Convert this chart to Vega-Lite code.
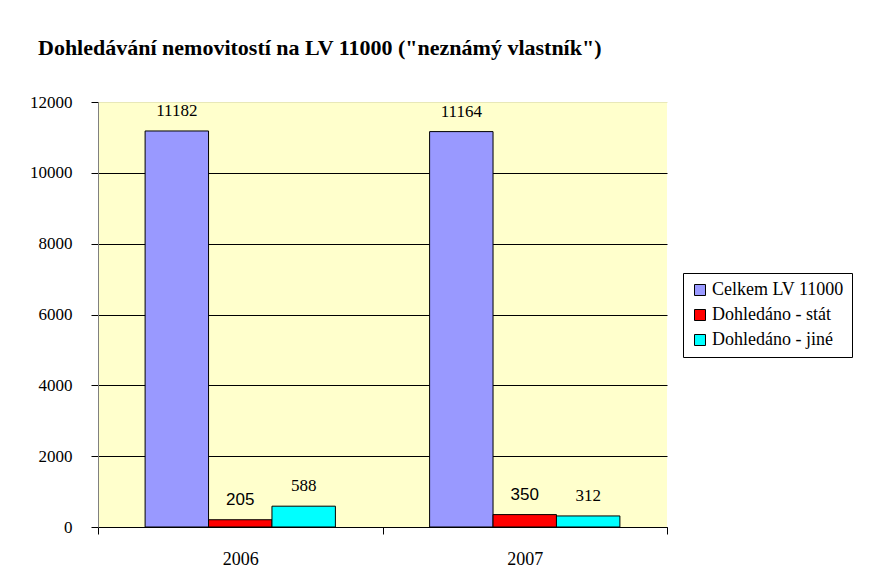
{
  "$schema": "https://vega.github.io/schema/vega-lite/v6.json",
  "autosize": "none",
  "width": 569,
  "height": 425,
  "padding": {"left": 98, "top": 102, "right": 203, "bottom": 53},
  "background": "white",
  "title": {
    "text": "Dohledávání nemovitostí na LV 11000 (\"neznámý vlastník\")",
    "anchor": "start",
    "frame": "group",
    "dx": -60,
    "dy": 6,
    "offset": 39,
    "font": "Liberation Serif",
    "fontSize": 22,
    "fontWeight": "bold",
    "color": "black"
  },
  "data": {
    "values": [
      {"year": "2006", "series": "Celkem LV 11000", "value": 11182},
      {"year": "2006", "series": "Dohledáno - stát", "value": 205},
      {"year": "2006", "series": "Dohledáno - jiné", "value": 588},
      {"year": "2007", "series": "Celkem LV 11000", "value": 11164},
      {"year": "2007", "series": "Dohledáno - stát", "value": 350},
      {"year": "2007", "series": "Dohledáno - jiné", "value": 312}
    ]
  },
  "encoding": {
    "x": {
      "field": "year",
      "type": "nominal",
      "scale": {"paddingInner": 0, "paddingOuter": 0},
      "axis": {
        "title": null,
        "labelAngle": 0,
        "labelFont": "Liberation Serif",
        "labelFontSize": 18,
        "labelColor": "black",
        "labelPadding": 16,
        "tickBand": "extent",
        "tickSize": 7,
        "tickColor": "black",
        "domainColor": "black",
        "grid": false
      }
    },
    "xOffset": {
      "field": "series",
      "type": "nominal",
      "sort": ["Celkem LV 11000", "Dohledáno - stát", "Dohledáno - jiné"],
      "scale": {"paddingInner": 0, "paddingOuter": 0.7426}
    },
    "y": {
      "field": "value",
      "type": "quantitative",
      "scale": {"domain": [0, 12000], "nice": false},
      "axis": {
        "title": null,
        "format": "d",
        "values": [0, 2000, 4000, 6000, 8000, 10000, 12000],
        "labelFont": "Liberation Serif",
        "labelFontSize": 17,
        "labelColor": "black",
        "labelPadding": 19,
        "tickSize": 7,
        "tickColor": "black",
        "domainColor": "#808080",
        "grid": true,
        "gridColor": {"condition": {"test": "datum.value == 12000", "value": "#e8e8b8"}, "value": "black"},
        "gridOpacity": 1
      }
    }
  },
  "layer": [
    {
      "mark": {"type": "bar", "stroke": "black", "strokeWidth": 1},
      "encoding": {
        "color": {
          "field": "series",
          "type": "nominal",
          "sort": ["Celkem LV 11000", "Dohledáno - stát", "Dohledáno - jiné"],
          "scale": {
            "domain": ["Celkem LV 11000", "Dohledáno - stát", "Dohledáno - jiné"],
            "range": ["#9999FF", "#FF0000", "#00FFFF"]
          },
          "legend": {
            "title": null,
            "orient": "none",
            "legendX": 585,
            "legendY": 171,
            "padding": 8,
            "strokeColor": "black",
            "fillColor": "white",
            "symbolType": "square",
            "symbolSize": 121,
            "symbolStrokeColor": "black",
            "symbolStrokeWidth": 1,
            "symbolOpacity": 1,
            "labelFont": "Liberation Serif",
            "labelFontSize": 18,
            "labelColor": "black",
            "labelOffset": 3,
            "rowPadding": 7,
            "labelLimit": 300
          }
        }
      }
    },
    {
      "transform": [{"filter": "datum.series != 'Dohledáno - stát'"}],
      "mark": {"type": "text", "dy": -20, "baseline": "middle", "color": "black", "font": "Liberation Serif", "fontSize": 17},
      "encoding": {
        "text": {"field": "value", "type": "quantitative", "format": "d"}
      }
    },
    {
      "transform": [{"filter": "datum.series == 'Dohledáno - stát'"}],
      "mark": {"type": "text", "dy": -20, "baseline": "middle", "color": "black", "font": "Liberation Sans", "fontSize": 17},
      "encoding": {
        "text": {"field": "value", "type": "quantitative", "format": "d"}
      }
    }
  ],
  "config": {
    "view": {"fill": "#FFFFCC", "stroke": null}
  }
}
